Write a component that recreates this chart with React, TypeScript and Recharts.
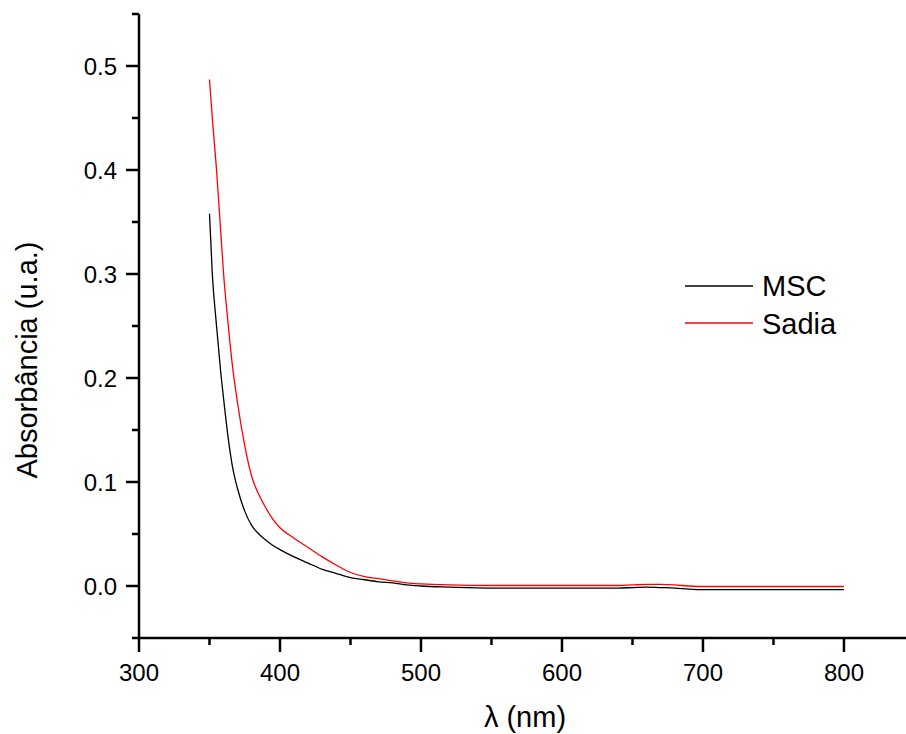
import { LineChart, Line, XAxis, YAxis } from 'recharts';

const FONT = "'Liberation Sans', Arial, sans-serif";

// wavelength grid (nm)
const wavelengths = [
  350, 352, 355, 358, 360, 363, 366, 370, 375, 380, 385, 390, 395, 400, 410, 420, 430, 440, 450,
  460, 470, 480, 490, 500, 520, 550, 580, 600, 620, 640, 650, 660, 670, 680, 690, 700, 750, 800,
];

const msc = [
  0.358, 0.3, 0.25, 0.205, 0.18, 0.145, 0.117, 0.093, 0.072, 0.058, 0.05, 0.044, 0.039, 0.035,
  0.028, 0.022, 0.016, 0.012, 0.008, 0.006, 0.004, 0.003, 0.001, 0.0, -0.001, -0.002, -0.002,
  -0.002, -0.002, -0.002, -0.0015, -0.001, -0.0015, -0.002, -0.003, -0.0035, -0.0035, -0.0035,
];

const sadia = [
  0.487, 0.45, 0.4, 0.34, 0.3, 0.255, 0.215, 0.175, 0.135, 0.105, 0.088, 0.075, 0.064, 0.056,
  0.046, 0.037, 0.028, 0.02, 0.013, 0.009, 0.007, 0.005, 0.003, 0.002, 0.001, 0.0005, 0.0005,
  0.0005, 0.0005, 0.0005, 0.001, 0.0015, 0.0015, 0.001, 0.0, -0.0005, -0.0005, -0.0005,
];

const series = [
  { key: 'msc', name: 'MSC', color: '#000000' },
  { key: 'sadia', name: 'Sadia', color: '#ff0000' },
];

const xTicks = [300, 350, 400, 450, 500, 550, 600, 650, 700, 750, 800];
const xMajor = [300, 400, 500, 600, 700, 800];
const yTicks = [-0.05, 0, 0.05, 0.1, 0.15, 0.2, 0.25, 0.3, 0.35, 0.4, 0.45, 0.5, 0.55];
const yMajor = [0, 0.1, 0.2, 0.3, 0.4, 0.5];

const data = wavelengths.map((nm, i) => ({ nm, msc: msc[i], sadia: sadia[i] }));

const isMajor = (list: number[], v: number) => list.some(m => Math.abs(m - v) < 1e-6);

const XTick = (props: any) => {
  const { x, y, payload } = props;
  const major = isMajor(xMajor, payload.value);
  return (
    <g>
      <line x1={x} x2={x} y1={y} y2={y + (major ? 14 : 7)} stroke="#000" strokeWidth={2.5} />
      {major && (
        <text x={x} y={y + 43} textAnchor="middle" fontSize={24} fontFamily={FONT} fill="#000">
          {payload.value}
        </text>
      )}
    </g>
  );
};

const YTick = (props: any) => {
  const { x, y, payload } = props;
  const major = isMajor(yMajor, payload.value);
  return (
    <g>
      <line x1={x - (major ? 13 : 7)} x2={x} y1={y} y2={y} stroke="#000" strokeWidth={2.5} />
      {major && (
        <text x={x - 22} y={y} dy="0.36em" textAnchor="end" fontSize={24} fontFamily={FONT} fill="#000">
          {payload.value.toFixed(1)}
        </text>
      )}
    </g>
  );
};

// legend drawn as an overlay so it takes no room from the plot
const LegendBox = () => (
  <svg width={200} height={90} style={{ position: 'absolute', left: 680, top: 260 }}>
    {series.map((s, i) => (
      <g key={s.key}>
        <line x1={5} x2={73} y1={26 + i * 37} y2={26 + i * 37} stroke={s.color} strokeWidth={1.3} />
        <text x={82} y={36 + i * 38} fontSize={29} fontFamily={FONT} fill="#000">
          {s.name}
        </text>
      </g>
    ))}
  </svg>
);

export default function App() {
  return (
    <div style={{ position: 'absolute', left: 0, top: 0, width: 906, height: 734, background: '#fff' }}>
      <LineChart width={906} height={734} data={data} margin={{ top: 14, right: 0, bottom: 0, left: 0 }}>
        <XAxis
          dataKey="nm"
          type="number"
          domain={[300, 844]}
          ticks={xTicks}
          allowDataOverflow
          height={96}
          tickSize={0}
          tickMargin={0}
          tickLine={false}
          tick={<XTick />}
          axisLine={{ stroke: '#000', strokeWidth: 2.5 }}
          label={{
            content: () => (
              <text x={525} y={727} textAnchor="middle" fontSize={29} fontFamily={FONT} fill="#000">
                λ (nm)
              </text>
            ),
          }}
        />
        <YAxis
          type="number"
          domain={[-0.05, 0.55]}
          ticks={yTicks}
          allowDataOverflow
          width={139}
          tickSize={0}
          tickMargin={0}
          tickLine={false}
          tick={<YTick />}
          axisLine={{ stroke: '#000', strokeWidth: 2.5 }}
          label={{
            content: () => (
              <text
                x={0}
                y={0}
                transform="translate(37, 360) rotate(-90)"
                textAnchor="middle"
                fontSize={29}
                fontFamily={FONT}
                fill="#000"
              >
                Absorbância (u.a.)
              </text>
            ),
          }}
        />
        {series.map(s => (
          <Line
            key={s.key}
            dataKey={s.key}
            name={s.name}
            type="monotone"
            stroke={s.color}
            strokeWidth={1.3}
            dot={false}
            isAnimationActive={false}
          />
        ))}
      </LineChart>
      <LegendBox />
    </div>
  );
}
